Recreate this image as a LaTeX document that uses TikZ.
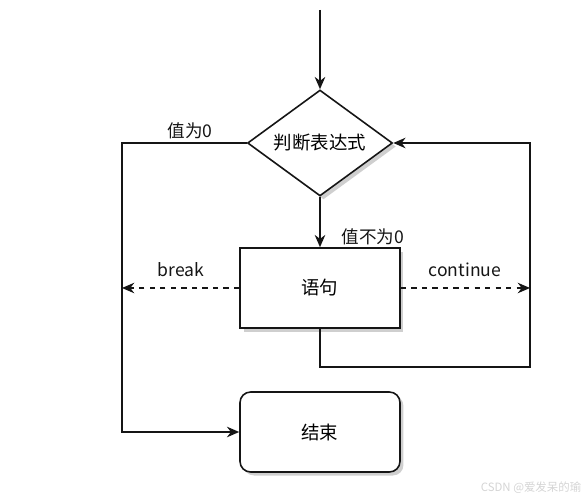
\documentclass[tikz,border=0pt]{standalone}
\usepackage{fontspec}
\setmainfont{Noto Sans CJK SC}
\usepackage{xcolor}
\definecolor{flow-ink}{HTML}{151515}
\definecolor{flow-shade}{HTML}{CFCFCF}
\definecolor{flow-mark}{HTML}{D4D4D4}
\usepackage{tikz}
\usetikzlibrary{shapes.geometric,arrows.meta,shadows}

\tikzset{
    flow-shape/.style={draw=flow-ink, fill=white, line width=0.9pt,
        font=\fontsize{10.5}{12}\selectfont,
        drop shadow={shadow xshift=2pt, shadow yshift=-2pt, fill=flow-shade, opacity=1}},
    flow-box/.style={flow-shape, rectangle, minimum width=3.2cm, minimum height=1.6cm},
    flow-cond/.style={flow-shape, diamond, aspect=1.4, inner sep=0pt,
        minimum width=2.9cm, minimum height=2.12cm},
    flow-line/.style={draw=flow-ink, line width=0.9pt},
    flow-arrow/.style={flow-line, -{Stealth[length=7pt,width=6pt]}},
    flow-jump/.style={flow-arrow, dashed},
    flow-label/.style={font=\fontsize{10}{12}\selectfont, text=flow-ink}
}

\begin{document}
\begin{tikzpicture}[x=0.02cm, y=-0.02cm]

    % Frame
    \useasboundingbox (0, 0) rectangle (583, 500);

    % Shapes
    \node[flow-cond] (cond) at (320, 143) {判断表达式};
    \node[flow-box] (body) at (320, 288) {语句};
    \node[flow-box, rounded corners=6pt] (finish) at (320, 432) {结束};

    % Turning points
    \coordinate (entry) at (320, 10);
    \coordinate (exitturn) at (122, 143);
    \coordinate (loopcorner) at (530, 367);
    \coordinate (breakend) at (122, 288);
    \coordinate (continueend) at (530, 288);

    % Connectors
    \draw[flow-arrow] (entry) -- (cond.north);
    \draw[flow-arrow] (cond.south) -- (body.north);
    \draw[flow-arrow] (cond.west) -- (exitturn) |- (finish.west);
    \draw[flow-arrow] (body.south) |- (loopcorner) |- (cond.east);
    \draw[flow-jump] (body.west) -- (breakend);
    \draw[flow-jump] (body.east) -- (continueend);

    % Labels
    \node[flow-label] (zero) at (190, 131) {值为0};
    \node[flow-label] (nonzero) at (373, 237) {值不为0};
    \node[flow-label] (breaktext) at (181, 270) {break};
    \node[flow-label] (continuetext) at (465, 270) {continue};

    % Mark
    \node[font=\fontsize{6.5}{8}\selectfont, text=flow-mark] (mark) at (531, 488) {CSDN @爱发呆的瑜};

\end{tikzpicture}
\end{document}
